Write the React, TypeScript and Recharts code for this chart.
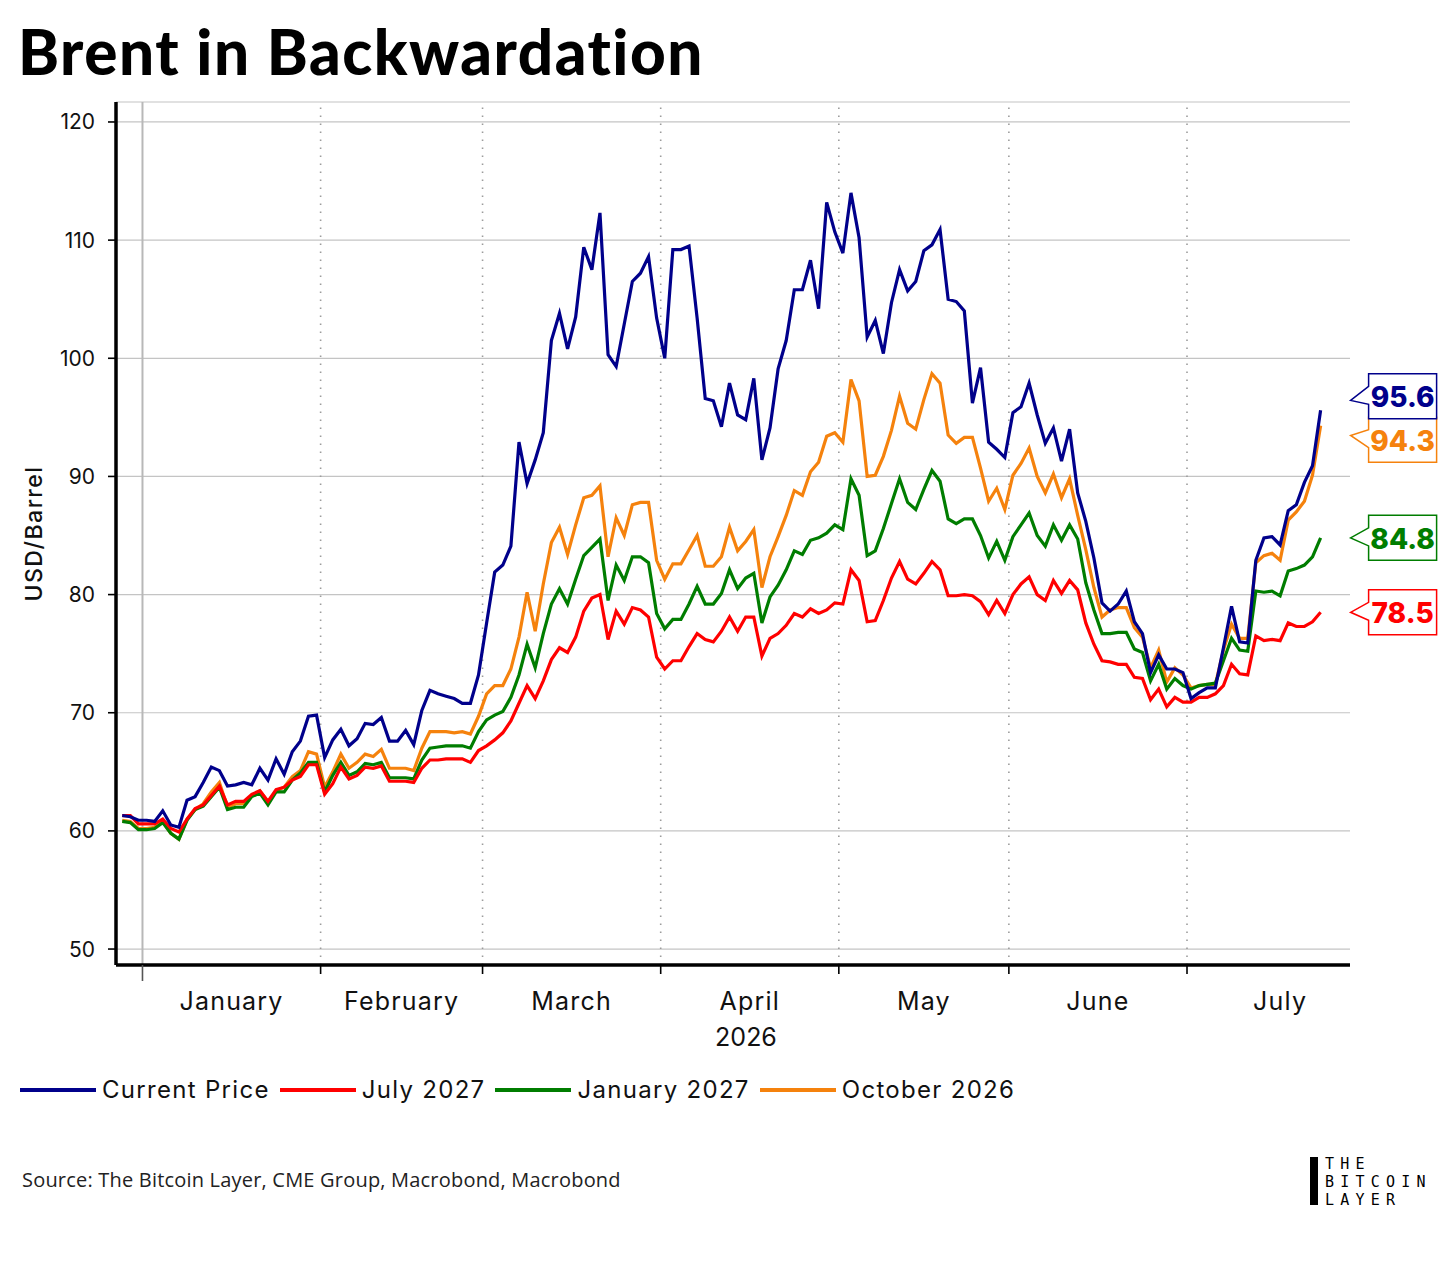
import React from 'react';
import {
  LineChart,
  Line,
  XAxis,
  YAxis,
  CartesianGrid,
  ReferenceLine,
  Legend,
} from 'recharts';

const FONT = 'Inter, "Noto Sans", sans-serif';

// business-day calendar (weekdays) from the first observation to the end of July
const calendar: Date[] = [];
for (let t = Date.UTC(2025, 11, 29); t <= Date.UTC(2026, 6, 31); t += 86400000) {
  const d = new Date(t);
  if (d.getUTCDay() % 6 !== 0) calendar.push(d);
}

const monthLabels = ['January', 'February', 'March', 'April', 'May', 'June', 'July'];
const yTicks = [50, 60, 70, 80, 90, 100, 110, 120];

// USD/barrel, one value per business day from 2025-12-29
const current = [
  61.3, 61.2, 60.9, 60.9, 60.8, 61.7, 60.5, 60.3, 62.6, 62.9,
  64.1, 65.4, 65.1, 63.8, 63.9, 64.1, 63.9, 65.3, 64.3, 66.1,
  64.8, 66.7, 67.6, 69.7, 69.8, 66.2, 67.7, 68.6, 67.2, 67.8,
  69.1, 69.0, 69.6, 67.6, 67.6, 68.5, 67.3, 70.2, 71.9, 71.6,
  71.4, 71.2, 70.8, 70.8, 73.2, 77.6, 81.9, 82.5, 84.1, 92.9,
  89.4, 91.4, 93.7, 101.5, 103.8, 100.8, 103.5, 109.4, 107.5, 112.3,
  100.3, 99.3, 102.9, 106.5, 107.2, 108.6, 103.4, 100.0, 109.2, 109.2,
  109.5, 103.4, 96.6, 96.4, 94.2, 97.9, 95.2, 94.8, 98.3, 91.4,
  94.1, 99.1, 101.5, 105.8, 105.8, 108.3, 104.2, 113.2, 110.7, 108.9,
  114.0, 110.2, 101.8, 103.2, 100.4, 104.7, 107.5, 105.7, 106.5, 109.1,
  109.6, 110.9, 105.0, 104.8, 104.0, 96.2, 99.2, 92.9, 92.3, 91.6,
  95.4, 95.9, 97.9, 95.2, 92.8, 94.1, 91.3, 94.0, 88.6, 86.2,
  83.1, 79.3, 78.6, 79.2, 80.3, 77.7, 76.7, 73.4, 74.9, 73.7,
  73.7, 73.4, 71.2, 71.7, 72.1, 72.1, 75.5, 79.0, 76.0, 75.9,
  82.9, 84.8, 84.9, 84.2, 87.1, 87.6, 89.5, 90.9, 95.6,
];

const jul27 = [
  61.3, 61.3, 60.6, 60.6, 60.6, 61.0, 60.2, 59.9, 61.0, 61.9,
  62.2, 63.0, 63.8, 62.2, 62.5, 62.5, 63.1, 63.4, 62.5, 63.5,
  63.7, 64.3, 64.6, 65.6, 65.6, 63.1, 64.0, 65.4, 64.4, 64.7,
  65.4, 65.3, 65.5, 64.2, 64.2, 64.2, 64.1, 65.3, 66.0, 66.0,
  66.1, 66.1, 66.1, 65.8, 66.8, 67.2, 67.7, 68.3, 69.3, 70.8,
  72.3, 71.2, 72.7, 74.5, 75.5, 75.1, 76.4, 78.6, 79.7, 80.0,
  76.2, 78.6, 77.5, 78.9, 78.7, 78.1, 74.7, 73.7, 74.4, 74.4,
  75.6, 76.7, 76.2, 76.0, 76.9, 78.1, 76.9, 78.1, 78.1, 74.8,
  76.3, 76.7, 77.4, 78.4, 78.1, 78.8, 78.4, 78.7, 79.3, 79.2,
  82.1, 81.2, 77.7, 77.8, 79.5, 81.4, 82.8, 81.3, 80.9, 81.8,
  82.8, 82.1, 79.9, 79.9, 80.0, 79.9, 79.4, 78.3, 79.5, 78.4,
  80.0, 80.9, 81.5, 80.0, 79.5, 81.2, 80.1, 81.2, 80.4, 77.6,
  75.8, 74.4, 74.3, 74.1, 74.1, 73.0, 72.9, 71.1, 72.0, 70.5,
  71.3, 70.9, 70.9, 71.3, 71.3, 71.6, 72.3, 74.1, 73.3, 73.2,
  76.5, 76.1, 76.2, 76.1, 77.6, 77.3, 77.3, 77.7, 78.5,
];

const jan27 = [
  60.8, 60.7, 60.1, 60.1, 60.2, 60.7, 59.8, 59.3, 60.9, 61.8,
  62.1, 62.9, 63.7, 61.8, 62.0, 62.0, 62.9, 63.2, 62.2, 63.3,
  63.3, 64.3, 64.9, 65.8, 65.8, 63.3, 64.7, 65.8, 64.7, 65.0,
  65.7, 65.6, 65.8, 64.5, 64.5, 64.5, 64.4, 66.0, 67.0, 67.1,
  67.2, 67.2, 67.2, 67.0, 68.4, 69.4, 69.8, 70.1, 71.3, 73.2,
  75.8, 73.8, 76.7, 79.2, 80.5, 79.2, 81.3, 83.3, 84.0, 84.7,
  79.5, 82.5, 81.2, 83.2, 83.2, 82.7, 78.4, 77.1, 77.9, 77.9,
  79.2, 80.7, 79.2, 79.2, 80.1, 82.1, 80.5, 81.4, 81.8, 77.6,
  79.8, 80.8, 82.1, 83.7, 83.4, 84.6, 84.8, 85.2, 85.9, 85.5,
  89.8, 88.4, 83.3, 83.7, 85.6, 87.7, 89.8, 87.8, 87.2, 88.9,
  90.5, 89.6, 86.4, 86.0, 86.4, 86.4, 85.0, 83.1, 84.5, 82.9,
  84.9, 85.9, 86.9, 85.0, 84.1, 85.9, 84.6, 85.9, 84.7, 81.0,
  78.7, 76.7, 76.7, 76.8, 76.8, 75.4, 75.1, 72.7, 74.1, 72.0,
  72.9, 72.3, 72.0, 72.3, 72.4, 72.5, 74.4, 76.3, 75.3, 75.2,
  80.3, 80.2, 80.3, 79.9, 82.0, 82.2, 82.5, 83.2, 84.8,
];

const oct26 = [
  60.9, 60.8, 60.2, 60.2, 60.3, 60.8, 59.8, 59.3, 61.0, 61.8,
  62.3, 63.3, 64.1, 62.0, 62.3, 62.3, 63.0, 63.4, 62.5, 63.4,
  63.7, 64.6, 65.1, 66.7, 66.5, 63.7, 65.0, 66.5, 65.3, 65.8,
  66.5, 66.3, 66.9, 65.3, 65.3, 65.3, 65.1, 67.0, 68.4, 68.4,
  68.4, 68.3, 68.4, 68.2, 69.7, 71.6, 72.3, 72.3, 73.7, 76.4,
  80.2, 76.9, 80.9, 84.4, 85.7, 83.4, 85.9, 88.2, 88.4, 89.2,
  83.2, 86.5, 85.0, 87.6, 87.8, 87.8, 82.9, 81.3, 82.6, 82.6,
  83.8, 85.0, 82.4, 82.4, 83.2, 85.7, 83.7, 84.5, 85.5, 80.6,
  83.2, 84.9, 86.7, 88.8, 88.4, 90.4, 91.2, 93.4, 93.7, 92.9,
  98.2, 96.4, 90.0, 90.1, 91.7, 93.9, 96.8, 94.5, 94.0, 96.5,
  98.7, 97.9, 93.5, 92.8, 93.3, 93.3, 90.7, 87.9, 89.0, 87.2,
  90.1, 91.1, 92.4, 90.0, 88.6, 90.2, 88.2, 89.8, 86.7, 83.8,
  80.6, 78.1, 78.7, 78.9, 78.9, 77.2, 76.4, 73.8, 75.3, 72.6,
  73.8, 73.2, 72.1, 72.3, 72.4, 72.4, 75.3, 77.5, 76.3, 76.3,
  82.7, 83.3, 83.5, 82.9, 86.3, 87.0, 87.9, 90.1, 94.3,
];

const series = [
  { key: 'current', name: 'Current Price', color: '#00008b', shift: -14 },
  { key: 'jul27', name: 'July 2027', color: '#ff0000', shift: 0 },
  { key: 'jan27', name: 'January 2027', color: '#007d00', shift: 0 },
  { key: 'oct26', name: 'October 2026', color: '#f5820d', shift: 14 },
];
const drawOrder = ['oct26', 'jan27', 'jul27', 'current'];

const data = current.map((v, k) => ({
  k,
  date: calendar[k].toISOString().slice(0, 10),
  current: v,
  jul27: jul27[k],
  jan27: jan27[k],
  oct26: oct26[k],
}));
const LAST = data.length - 1;

// month boundaries sit half-way between the last and first business day
const monthStarts: number[] = [];
calendar.forEach((d, k) => {
  if (k > 0 && d.getUTCMonth() !== calendar[k - 1].getUTCMonth()) monthStarts.push(k - 0.5);
});
const monthEnds = [...monthStarts.slice(1), calendar.length - 0.5];
const monthMids = monthStarts.map((s, m) => (s + monthEnds[m]) / 2);
const xTicks = [...monthStarts, ...monthMids].sort((a, b) => a - b);

const MonthTick = (props: any) => {
  const { x, y, payload } = props;
  const b = monthStarts.indexOf(payload.value);
  if (b >= 0) {
    return (
      <line
        x1={x}
        x2={x}
        y1={y}
        y2={y + (b === 0 ? 16 : 9)}
        stroke={b === 0 ? '#555' : '#000'}
        strokeWidth={1.6}
      />
    );
  }
  const m = monthMids.indexOf(payload.value);
  return (
    <text x={x} y={y + 45} textAnchor="middle" fontSize={25} fill="#111" fontFamily={FONT} letterSpacing={1.2}>
      {monthLabels[m]}
    </text>
  );
};

const YLabel = (props: any) => {
  const vb = props.viewBox || {};
  const cy = (vb.y ?? 102) + (vb.height ?? 863) / 2;
  return (
    <text
      transform={`translate(34, ${cy}) rotate(-90)`}
      textAnchor="middle"
      dominantBaseline="central"
      fontSize={23}
      fontWeight={500}
      fill="#111"
      fontFamily={FONT}
      letterSpacing={1.5}
    >
      USD/Barrel
    </text>
  );
};

const makeCallout = (color: string, shift: number) => (props: any) => {
  if (props.index !== LAST) return null;
  const x = props.x ?? props.viewBox?.x;
  const y = props.y ?? props.viewBox?.y;
  const value = Number(props.value);
  const cy = y + shift;
  const left = x + 48;
  const w = 68;
  const h = 45;
  const tipX = x + 30;
  const tipY = y + shift * 0.7;
  return (
    <g>
      <path
        d={`M${left},${cy - h / 2} H${left + w} V${cy + h / 2} H${left} V${cy + 8} L${tipX},${tipY} L${left},${cy - 10} Z`}
        fill="#fff"
        stroke={color}
        strokeWidth={1.5}
      />
      <text
        x={left + w / 2}
        y={cy + 1}
        textAnchor="middle"
        dominantBaseline="central"
        fontSize={28}
        fontWeight={800}
        fill={color}
        fontFamily={FONT}
      >
        {value.toFixed(1)}
      </text>
    </g>
  );
};

const LegendContent = () => (
  <div style={{ display: 'flex', alignItems: 'center', fontFamily: FONT, fontSize: 24, letterSpacing: 1.3, color: '#111', lineHeight: '36px' }}>
    {series.map((s) => (
      <div key={s.key} style={{ display: 'flex', alignItems: 'center', marginRight: 10 }}>
        <span style={{ display: 'inline-block', width: 76, height: 4, background: s.color, marginRight: 6 }} />
        <span>{s.name}</span>
      </div>
    ))}
  </div>
);

export default function App() {
  return (
    <div style={{ position: 'absolute', left: 0, top: 0, width: 1456, height: 1262, background: '#fff', overflow: 'hidden' }}>
      <svg width={1456} height={1262} style={{ position: 'absolute', left: 0, top: 0 }}>
        <text x={18} y={75} fontSize={62} fontWeight={900} fontFamily="Lato, Inter, sans-serif" fill="#000" letterSpacing={1.5}>
          Brent in Backwardation
        </text>
        <text x={22} y={1187} fontSize={20} fontFamily='"Open Sans", sans-serif' fill="#222" letterSpacing={0.2}>
          Source: The Bitcoin Layer, CME Group, Macrobond, Macrobond
        </text>
        <rect x={1310} y={1157} width={8} height={48} fill="#000" />
        <g fontFamily='"DejaVu Sans Mono", monospace' fontSize={15} fill="#000" letterSpacing={6.2}>
          <text x={1325} y={1169}>THE</text>
          <text x={1325} y={1187}>BITCOIN</text>
          <text x={1325} y={1205}>LAYER</text>
        </g>
      </svg>
      <div style={{ position: 'absolute', left: 0, top: 0 }}>
        <LineChart width={1456} height={1055} data={data} margin={{ top: 102, right: 106, left: 0, bottom: 0 }}>
          <CartesianGrid vertical={false} stroke="#c4c4c4" strokeWidth={1.2} />
          {monthStarts.map((b, m) => (
            <ReferenceLine
              key={b}
              x={b}
              stroke={m === 0 ? '#b8b8b8' : '#9c9c9c'}
              strokeWidth={m === 0 ? 2 : 1.6}
              strokeDasharray={m === 0 ? undefined : '1.6 6.4'}
            />
          ))}
          <XAxis
            dataKey="k"
            type="number"
            domain={[-0.77, 151.63]}
            ticks={xTicks}
            interval={0}
            tick={(p: any) => <MonthTick {...p} />}
            tickLine={false}
            tickSize={0}
            tickMargin={0}
            height={90}
            axisLine={{ stroke: '#000', strokeWidth: 3.5 }}
            label={{ value: '2026', position: 'insideBottom', offset: 9, dx: 13, fontSize: 25, fill: '#111', fontFamily: FONT }}
          />
          <YAxis
            type="number"
            domain={[48.65, 121.69]}
            ticks={yTicks}
            width={116}
            tickSize={8}
            tickMargin={13}
            tickLine={{ stroke: '#000', strokeWidth: 1.6 }}
            axisLine={{ stroke: '#000', strokeWidth: 3.5 }}
            tick={{ fontSize: 21, fill: '#111', fontFamily: FONT }}
            label={<YLabel />}
          />
          {drawOrder.map((key) => {
            const s = series.find((x) => x.key === key)!;
            return (
              <Line
                key={s.key}
                type="linear"
                dataKey={s.key}
                name={s.name}
                stroke={s.color}
                strokeWidth={3.2}
                dot={false}
                isAnimationActive={false}
                label={makeCallout(s.color, s.shift)}
              />
            );
          })}
          <Legend
            layout="horizontal"
            verticalAlign="middle"
            align="center"
            content={<LegendContent />}
            wrapperStyle={{ top: 1072, left: 20, width: 1200 }}
          />
        </LineChart>
      </div>
    </div>
  );
}
